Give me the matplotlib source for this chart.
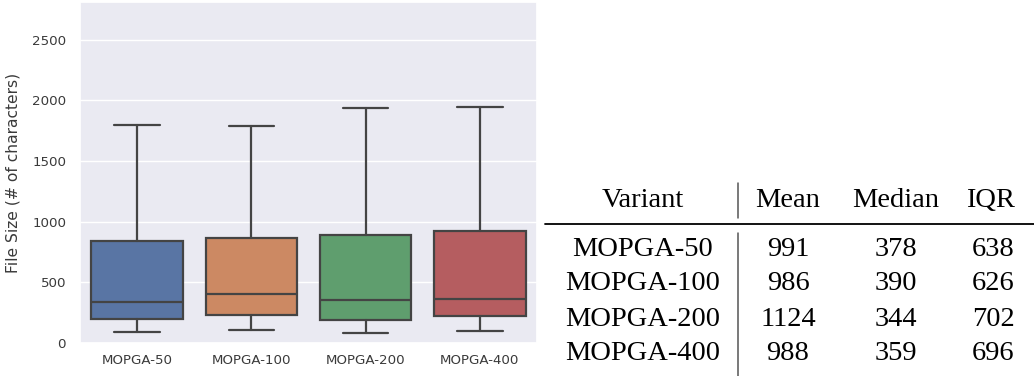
import matplotlib
matplotlib.use('Agg')
import matplotlib.pyplot as plt
import seaborn as sns

# Box statistics
variants = ['MOPGA-50', 'MOPGA-100', 'MOPGA-200', 'MOPGA-400']
whis_lo = [88, 105, 80, 96]
q1 = [200, 231, 190, 225]
med = [335, 401, 352, 365]
q3 = [841, 863, 890, 921]
whis_hi = [1797, 1791, 1935, 1946]

# Summary table values
means = ['991', '986', '1124', '988']
medians = ['378', '390', '344', '359']
iqrs = ['638', '626', '702', '696']

sns.set_theme(style='darkgrid')
colors = sns.color_palette('deep', 4, desat=0.75)

W, H = 1034, 376
fig = plt.figure(figsize=(W / 100, H / 100), dpi=100)
ax = fig.add_axes([80 / W, 1 - 343 / H, 457 / W, 341 / H])

stats = []
for i in range(len(variants)):
    stats.append({'whislo': whis_lo[i], 'q1': q1[i], 'med': med[i],
                  'q3': q3[i], 'whishi': whis_hi[i], 'label': variants[i]})

line_kw = dict(color='#444444', linewidth=1.6)
bp = ax.bxp(stats, positions=range(len(variants)), widths=0.8, patch_artist=True,
            showfliers=False, boxprops=dict(edgecolor='#444444', linewidth=1.6),
            medianprops=line_kw, whiskerprops=line_kw, capprops=line_kw)
for patch, c in zip(bp['boxes'], colors):
    patch.set_facecolor(c)
for cap in bp['caps']:
    xd = cap.get_xdata()
    mid = (xd[0] + xd[1]) / 2
    cap.set_xdata([mid - 0.2, mid + 0.2])

ax.set_xlim(-0.5, 3.5)
ax.set_ylim(0, 2810)
ax.set_yticks([0, 500, 1000, 1500, 2000, 2500])
ax.tick_params(axis='y', labelsize=9.6, colors='#3a3a3a', pad=4)
ax.tick_params(axis='x', labelsize=9.6, colors='#3a3a3a', pad=2)
ax.xaxis.grid(False)
ax.set_ylabel('File Size (# of characters)', fontsize=11.2, color='#3a3a3a', labelpad=8)


def fx(x):
    return x / W


def fy(y):
    return 1 - y / H


serif = dict(family='Liberation Serif', fontsize=20.5, color='black', va='center', ha='center')

# header
fig.text(fx(643), fy(201), 'Variant', **serif)
fig.text(fx(788), fy(201), 'Mean', **serif)
fig.text(fx(896), fy(201), 'Median', **serif)
fig.text(fx(990), fy(201), 'IQR', **serif)

row_y = [249, 284, 319, 354]
for i in range(len(variants)):
    fig.text(fx(643), fy(row_y[i]), variants[i], **serif)
    fig.text(fx(788), fy(row_y[i]), means[i], **serif)
    fig.text(fx(896), fy(row_y[i]), medians[i], **serif)
    fig.text(fx(993), fy(row_y[i]), iqrs[i], **serif)

# rules
fig.add_artist(plt.Line2D([fx(545), fx(1034)], [fy(224), fy(224)], color='black', linewidth=1.3))
fig.add_artist(plt.Line2D([fx(738), fx(738)], [fy(183), fy(218)], color='#555555', linewidth=1.1))
fig.add_artist(plt.Line2D([fx(738), fx(738)], [fy(233), fy(376)], color='#555555', linewidth=1.1))

plt.savefig('out.png', dpi=100)
